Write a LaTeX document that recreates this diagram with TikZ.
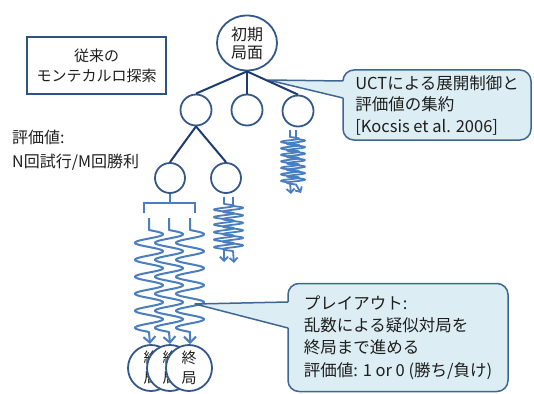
\documentclass[tikz,border=0pt]{standalone}
\usepackage{fontspec}
\setmainfont{Noto Sans CJK JP}
\usetikzlibrary{arrows.meta,shapes.geometric}
\definecolor{treecol}{HTML}{1F3C6E}
\definecolor{circcol}{HTML}{34588A}
\definecolor{wavecol}{HTML}{4A7EBE}
\definecolor{cofill}{HTML}{DCEEF4}
\definecolor{coline}{HTML}{3E6693}
\definecolor{boxcol}{HTML}{2F5283}
\definecolor{txt}{HTML}{1E1E1E}
\newcommand\wavyline[9]{%
  \draw[#9] (#1,#2) -- (#1,#3) -- plot[domain=0:#6,samples=240] ({#1+#4*sin(\x*(360/#5))},{#3+\x}) -- (#7,#8);}
\tikzset{
  treeline/.style={draw=treecol, line width=2pt},
  circ/.style={circle, draw=circcol, line width=1.8pt, fill=white, inner sep=0pt, text=txt, align=center},
  wave/.style={draw=wavecol, line width=2pt, line join=round, -{Straight Barb[length=6pt,width=12pt]}},
  smallwave/.style={draw=wavecol, line width=1.8pt, line join=round, -{Straight Barb[length=4pt,width=8pt]}},
  bracket/.style={draw=wavecol, line width=2pt},
  callout/.style={rectangle, rounded corners=11pt, draw=coline, fill=cofill, line width=1.5pt, align=left, text=txt, inner sep=0pt},
  lbl/.style={text=txt, align=left, inner sep=0pt},
}
\begin{document}
\begin{tikzpicture}[x=1pt,y=-1pt]
\useasboundingbox (0,0) rectangle (534,393);

% title box
\node[draw=boxcol, line width=1.5pt, minimum width=139pt, minimum height=57pt, align=center, text=txt,
      font=\fontsize{15}{20}\selectfont] (title) at (96.5,65.5) {従来の\\モンテカルロ探索};

% left label
\node[lbl, anchor=west, font=\fontsize{16}{24}\selectfont] (evallbl) at (12,150) {評価値:\\N回試行/M回勝利};

% callout 1
\node[callout, minimum width=188pt, minimum height=70pt, font=\fontsize{16.5}{21.5}\selectfont] (co1) at (437,105)
  {UCTによる展開制御と\\評価値の集約\\{}{[}Kocsis et al. 2006{]}};
\coordinate (tip1) at (268,80);
\coordinate (b1a) at (343,81);
\coordinate (b1b) at (343,98);
\fill[cofill] (tip1) -- ([xshift=1.5pt]b1a) -- ([xshift=1.5pt]b1b) -- cycle;
\draw[coline, line width=1.5pt, line join=round] (b1a) -- (tip1) -- (b1b);

% tree nodes
\node[ellipse, draw=circcol, line width=1.8pt, fill=white, inner sep=0pt, minimum width=60pt, minimum height=55pt,
      align=center, text=txt, font=\fontsize{16}{18}\selectfont] (root) at (247,43) {初期\\局面};
\node[circ, minimum size=31pt] (c1) at (196,110) {};
\node[circ, minimum size=31pt] (c2) at (247,110) {};
\node[circ, minimum size=31pt] (c3) at (298,111) {};
\node[circ, minimum size=30pt] (d1) at (170,178) {};
\node[circ, minimum size=30pt] (d2) at (226,178) {};

\draw[treeline] (root.south) -- (c1.north);
\draw[treeline] (root.south) -- (c2.north);
\draw[treeline] (root.south) -- (c3.north);
\draw[treeline] (c1.south) -- (d1.north);
\draw[treeline] (c1.south) -- (d2.north);

% bracket under d1
\coordinate (bar) at (170,203);
\draw[bracket] (d1.south) -- (d1.south |- bar);
\draw[bracket] (144,213) -- (144,203) -- (195,203) -- (195,213);

% main playout waves
\wavyline{149}{218}{230}{14}{17}{102}{150}{344}{wave}
\wavyline{169}{218}{230}{14}{17}{102}{170}{344}{wave}
\wavyline{190}{218}{230}{14}{17}{102}{190}{344}{wave}

% small waves under d2
\wavyline{224}{197}{204}{10}{7.5}{45}{224}{262}{smallwave}
\wavyline{233}{197}{206}{10}{7.5}{45}{234}{263}{smallwave}

% small waves under c3
\wavyline{290}{130}{137}{9}{6.5}{45.5}{291}{194}{smallwave}
\wavyline{296}{130}{139}{9}{6.5}{45.5}{301}{193}{smallwave}

% terminal positions
\node[circ, minimum size=46pt, font=\fontsize{15}{20}\selectfont] (t1) at (151,368) {終\\局};
\node[circ, minimum size=46pt, font=\fontsize{15}{20}\selectfont] (t2) at (170,368) {終\\局};
\node[circ, minimum size=46pt, font=\fontsize{15}{20}\selectfont] (t3) at (189,368) {終\\局};

% callout 2
\node[callout, minimum width=220pt, minimum height=108pt, font=\fontsize{16.5}{22.3}\selectfont] (co2) at (398,337.5)
  {プレイアウト:\\乱数による疑似対局を\\終局まで進める\\評価値: 1 or 0 (勝ち/負け)};
\coordinate (tip2) at (195,304);
\coordinate (b2a) at (288,302);
\coordinate (b2b) at (288,328);
\fill[cofill] (tip2) -- ([xshift=1.5pt]b2a) -- ([xshift=1.5pt]b2b) -- cycle;
\draw[coline, line width=1.5pt, line join=round] (b2a) -- (tip2) -- (b2b);
\end{tikzpicture}
\end{document}
